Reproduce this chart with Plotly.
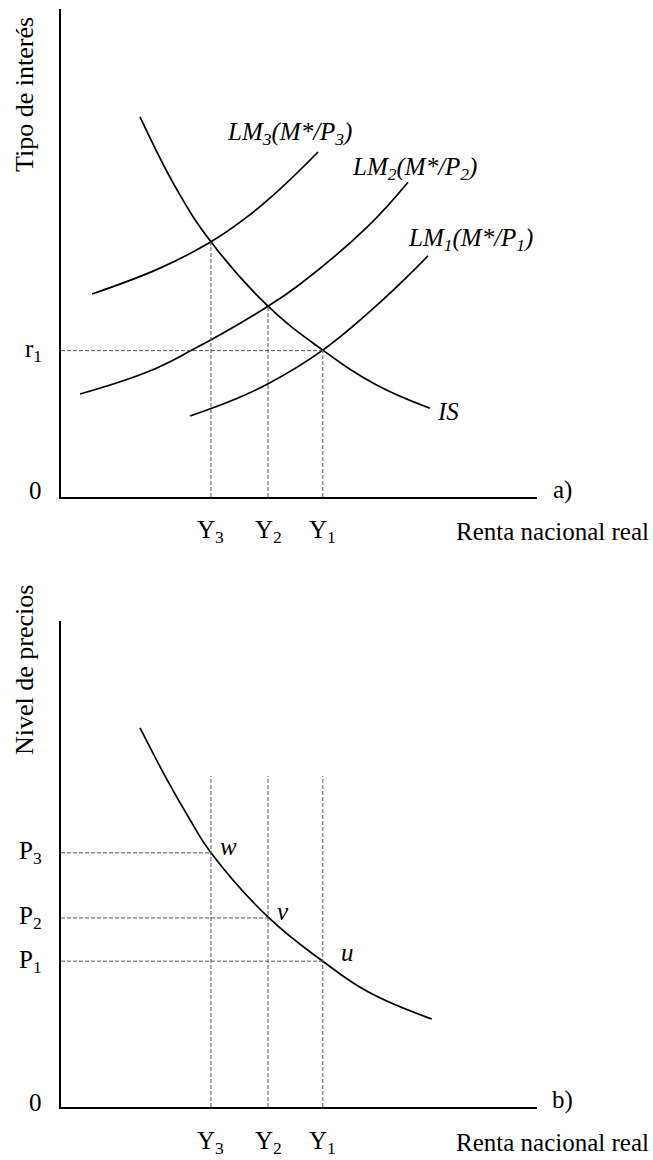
import plotly.graph_objects as go

# ---------------- data (abstract units) ----------------
Y_vals = [3.15, 4.35, 5.50]          # Y3, Y2, Y1
Y_text = ["Y<sub>3</sub>", "Y<sub>2</sub>", "Y<sub>1</sub>"]
r1 = 3.0
P_vals = [5.23, 3.89, 3.00]          # P3, P2, P1
P_text = ["P<sub>3</sub>", "P<sub>2</sub>", "P<sub>1</sub>"]
is_at_Y = [5.23, 3.91, 3.01]         # IS height at Y3, Y2, Y1

IS_x = [1.66, 2.44, 3.15, 4.35, 5.50, 6.62, 7.75]
IS_y = [7.79, 6.29, 5.23, 3.91, 3.01, 2.30, 1.82]

LM3_x = [0.65, 2.08, 3.15, 3.91, 4.60, 5.40]
LM3_y = [4.16, 4.69, 5.23, 5.74, 6.31, 7.07]

LM2_x = [0.40, 1.81, 2.75, 4.35, 5.02, 6.43, 7.29]
LM2_y = [2.11, 2.56, 3.01, 3.91, 4.36, 5.53, 6.45]

LM1_x = [2.71, 3.72, 4.39, 5.50, 6.76, 7.71]
LM1_y = [1.66, 2.03, 2.34, 3.01, 4.04, 4.94]

AD_x = [1.66, 2.23, 2.71, 3.15, 4.37, 5.50, 6.45, 7.79]
AD_y = [7.80, 6.73, 5.91, 5.23, 3.89, 3.00, 2.37, 1.81]
AD_vtop = 6.81

# ---------------- layout helpers ----------------
W, H = 653, 1160
def xp(px):
    return px / W
def yp(py):
    return 1 - py / H

FONT = "Times New Roman, Liberation Serif, serif"
FS = 25
curve = dict(color="black", width=1.7, shape="spline", smoothing=1.2)
dash = dict(color="#555555", width=1, dash="4px,2px")

fig = go.Figure()

# top panel
for xs, ys in [(IS_x, IS_y), (LM3_x, LM3_y), (LM2_x, LM2_y), (LM1_x, LM1_y)]:
    fig.add_trace(go.Scatter(x=xs, y=ys, mode="lines", line=curve,
                             xaxis="x", yaxis="y", hoverinfo="skip"))
fig.add_trace(go.Scatter(x=[0, Y_vals[2]], y=[r1, r1], mode="lines", line=dash,
                         xaxis="x", yaxis="y", hoverinfo="skip"))
for xv, yv in zip(Y_vals, is_at_Y):
    fig.add_trace(go.Scatter(x=[xv, xv], y=[0, yv], mode="lines", line=dash,
                             xaxis="x", yaxis="y", hoverinfo="skip"))

# bottom panel
fig.add_trace(go.Scatter(x=AD_x, y=AD_y, mode="lines", line=curve,
                         xaxis="x2", yaxis="y2", hoverinfo="skip"))
for xv, pv in zip(Y_vals, P_vals):
    fig.add_trace(go.Scatter(x=[xv, xv], y=[0, AD_vtop], mode="lines", line=dash,
                             xaxis="x2", yaxis="y2", hoverinfo="skip"))
    fig.add_trace(go.Scatter(x=[0, xv], y=[pv, pv], mode="lines", line=dash,
                             xaxis="x2", yaxis="y2", hoverinfo="skip"))

ax = dict(range=[0, 10], showgrid=False, zeroline=False, showticklabels=False,
          ticks="", showline=True, linecolor="black", linewidth=2, fixedrange=True)

ann = []
def A(text, x, y, xref="paper", yref="paper", italic=False, angle=0,
      xanchor="center", size=FS):
    t = f"<i>{text}</i>" if italic else text
    ann.append(dict(text=t, x=x, y=y, xref=xref, yref=yref, showarrow=False,
                    xanchor=xanchor, yanchor="middle", textangle=angle,
                    borderpad=0,
                    font=dict(family=FONT, size=size, color="black")))

# axis titles
A("Tipo de interés", xp(25), yp(95), angle=-90, size=26)
A("Nivel de precios", xp(24), yp(670), angle=-90, size=26)
A("Renta nacional real", xp(650), yp(532), xanchor="right")
A("Renta nacional real", xp(650), yp(1142), xanchor="right")
A("0", xp(35), yp(490))
A("0", xp(35), yp(1102))
A("a)", xp(562), yp(490))
A("b)", xp(562), yp(1100))
A("r<sub>1</sub>", xp(33), r1, yref="y")
for xv, t in zip(Y_vals, Y_text):
    A(t, xv, yp(532), xref="x")
    A(t, xv, yp(1142), xref="x2")
for pv, t in zip(P_vals, P_text):
    A(t, xp(30), pv, yref="y2")

# curve labels
A("LM<sub>3</sub>(M*/P<sub>3</sub>)", xp(289), yp(134), italic=True)
A("LM<sub>2</sub>(M*/P<sub>2</sub>)", xp(415), yp(168), italic=True)
A("LM<sub>1</sub>(M*/P<sub>1</sub>)", xp(470), yp(240), italic=True)
A("IS", xp(448), yp(412), italic=True)
A("w", xp(228), yp(846), italic=True)
A("v", xp(283), yp(911), italic=True)
A("u", xp(347), yp(952), italic=True)

fig.update_layout(
    width=W, height=H, margin=dict(l=0, r=0, t=0, b=0),
    paper_bgcolor="white", plot_bgcolor="white", showlegend=False,
    xaxis=dict(ax, domain=[xp(61), xp(537)], anchor="y"),
    yaxis=dict(ax, domain=[yp(497), yp(9)], anchor="x"),
    xaxis2=dict(ax, domain=[xp(61), xp(537)], anchor="y2"),
    yaxis2=dict(ax, domain=[yp(1107), yp(621)], anchor="x2"),
    annotations=ann,
)

fig.write_html(
    "out.html",
    config={"displayModeBar": False, "staticPlot": True},
    post_script="document.body.style.margin='0';document.body.style.overflow='hidden';",
)
